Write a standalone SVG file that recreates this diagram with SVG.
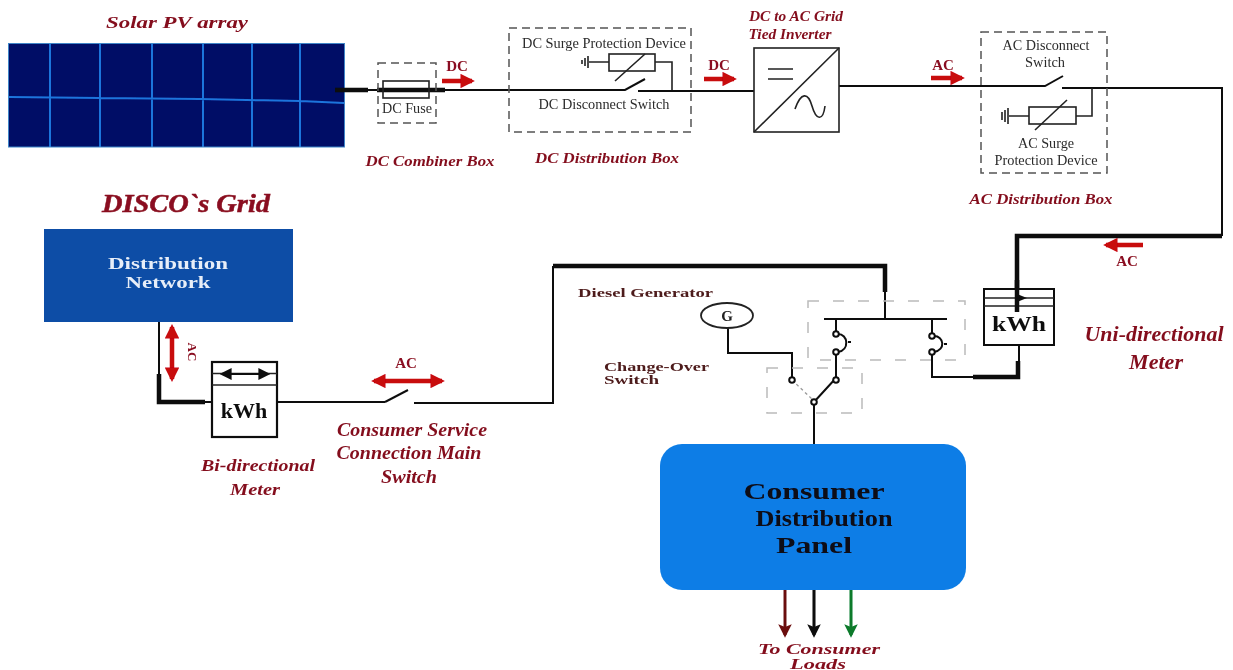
<svg xmlns="http://www.w3.org/2000/svg" width="1233" height="670" viewBox="0 0 1233 670">
<style>
text{font-family:"Liberation Serif","Times New Roman",serif;text-anchor:middle}
.cap{font-weight:bold;font-style:italic;fill:#840e1e;font-size:15px}
.lab{fill:#2c2c2c;font-size:14px}
.flow{font-weight:bold;fill:#8a1020;font-size:15px}
.mar{font-weight:bold;fill:#4d1a1a;font-size:13px;text-anchor:start}
.kwh{font-weight:bold;fill:#111;font-size:21px}
.wh{font-weight:bold;fill:#e8eef8;font-size:16px}
.pan{font-weight:bold;fill:#0a0a14;font-size:23px}
.w{fill:none;stroke:#111;stroke-width:2;stroke-linejoin:miter}
.t{fill:none;stroke:#0a0a0a;stroke-width:4.500;stroke-linejoin:miter}
.n{fill:none;stroke:#222;stroke-width:1.600}
.box{fill:none;stroke:#555;stroke-width:1.500;stroke-dasharray:8 5}
.gbox{fill:none;stroke:#bbb;stroke-width:1.500;stroke-dasharray:11 14}
.red{fill:none;stroke:#c8070f;stroke-width:4.500}
.term{fill:#fff;stroke:#111;stroke-width:2}
.pv{stroke:#1c74dc;stroke-width:2;fill:none}
</style>
<defs>
<filter id="soft" x="0" y="0" width="100%" height="100%"><feGaussianBlur stdDeviation="0.4"/></filter>
<marker id="rh" viewBox="0 0 10 10" refX="8" refY="5" markerWidth="3.4" markerHeight="3.2" orient="auto-start-reverse"><path d="M0 0L10 5L0 10Z" fill="#c8070f"/></marker>
<marker id="mh" viewBox="0 0 10 10" refX="8" refY="5" markerWidth="4.500" markerHeight="4.500" orient="auto"><path d="M0 0L10 5L0 10L2 5Z" fill="#6b1010"/></marker>
<marker id="kh" viewBox="0 0 10 10" refX="8" refY="5" markerWidth="4.500" markerHeight="4.500" orient="auto"><path d="M0 0L10 5L0 10L2 5Z" fill="#0a0a0a"/></marker>
<marker id="gh" viewBox="0 0 10 10" refX="8" refY="5" markerWidth="4.500" markerHeight="4.500" orient="auto"><path d="M0 0L10 5L0 10L2 5Z" fill="#0a7a2a"/></marker>
<marker id="bk" viewBox="0 0 10 10" refX="8" refY="5" markerWidth="6" markerHeight="6" orient="auto-start-reverse"><path d="M0 0L10 5L0 10Z" fill="#111"/></marker>
</defs>
<g filter="url(#soft)">
<g id="solar-pv-array">
<rect x="8" y="43" width="336" height="104" fill="#010c66"/>
<path class="pv" d="M50 44V147M100 44V147M152 44V147M203 44V147M252 44V147M300 44V147M9 97L100 98L200 99L300 101L344 103"/>
<rect x="8.500" y="43.500" width="336" height="103.500" fill="none" stroke="#3f86c8" stroke-width="1"/>
<text class="cap" x="177" y="28" textLength="142" lengthAdjust="spacingAndGlyphs" style="font-size:17px">Solar PV array</text>
</g>
<g id="connectors">
<path class="w" d="M368 90H625L645 79"/>
<path class="w" d="M638 91H754"/>
<path class="t" d="M335 90H368M377 90H445"/>
<path class="w" d="M839 86H1045L1063 76"/>
<path class="w" d="M1062 88H1222V236"/>
<path class="t" d="M1222 236H1017V312"/>
<path class="w" d="M728 328V353H792V378"/>
<path class="w" d="M836 378L814 402M814 402V444"/>
<path class="w" stroke-dasharray="3 3" d="M792 380L813 400" style="stroke:#999;stroke-width:1.300"/>
<path class="w" d="M836 378V352M836 333V319M824 319H947M885 319V266M932 319V335M932 352V377H973"/>
<path class="t" d="M973 377H1018V361"/>
<path class="w" d="M1019 361V345"/>
<path class="t" d="M885 292V266H553"/>
<path class="w" d="M553 266V403H414M385 402L408 390M385 402H277"/>
<path class="t" d="M205 402H159V374"/>
<path class="w" d="M159 374V322"/>
<path fill="none" stroke="#6b1010" stroke-width="3" marker-end="url(#mh)" d="M785 590V635"/>
<path fill="none" stroke="#0a0a0a" stroke-width="3" marker-end="url(#kh)" d="M814 590V635"/>
<path fill="none" stroke="#0a7a2a" stroke-width="3" marker-end="url(#gh)" d="M851 590V635"/>
<path class="w" d="M205 402H212"/>
</g>
<g id="flow-arrows">
<path class="red" marker-end="url(#rh)" d="M442 81H472"/><text class="flow" x="457" y="71">DC</text>
<path class="red" marker-end="url(#rh)" d="M704 79H734"/><text class="flow" x="719" y="70">DC</text>
<path class="red" marker-end="url(#rh)" d="M931 78H962"/><text class="flow" x="943" y="70">AC</text>
<path class="red" marker-end="url(#rh)" d="M1143 245H1106"/><text class="flow" x="1127" y="266">AC</text>
<path class="red" marker-start="url(#rh)" marker-end="url(#rh)" d="M374 381H442"/><text class="flow" x="406" y="368">AC</text>
<path class="red" marker-start="url(#rh)" marker-end="url(#rh)" d="M172 327V379"/><text class="flow" x="0" y="0" transform="translate(188 352) rotate(90)" style="font-size:13px">AC</text>
</g>
<g id="dc-combiner-box">
<rect class="box" x="378" y="63" width="58" height="60"/>
<rect class="n" x="383" y="81" width="46" height="17"/>
<text class="lab" x="407" y="113" textLength="50" lengthAdjust="spacingAndGlyphs">DC Fuse</text>
<text class="cap" x="430" y="166" textLength="129" lengthAdjust="spacingAndGlyphs">DC Combiner Box</text>
</g>
<g id="dc-distribution-box">
<rect class="box" x="509" y="28" width="182" height="104"/>
<text class="lab" x="604" y="48" textLength="164" lengthAdjust="spacingAndGlyphs">DC Surge Protection Device</text>
<rect class="n" x="609" y="54" width="46" height="17"/>
<path class="n" d="M589 62H609M655 62H672V90M615 81L645 54M588 56V68M585 58V66M582 60V64"/>
<text class="lab" x="604" y="109" textLength="131" lengthAdjust="spacingAndGlyphs">DC Disconnect Switch</text>
<text class="cap" x="607" y="163" textLength="144" lengthAdjust="spacingAndGlyphs">DC Distribution Box</text>
</g>
<g id="inverter">
<rect class="n" x="754" y="48" width="85" height="84" fill="#fff"/>
<path class="n" d="M754 132L839 48M768 69H793M768 79H793M795 109C801 92 808 92 812 106C816 120 823 122 825 106"/>
<text class="cap" x="796" y="21" textLength="94" lengthAdjust="spacingAndGlyphs" style="font-size:14px">DC to AC Grid</text>
<text class="cap" x="790" y="39" textLength="83" lengthAdjust="spacingAndGlyphs" style="font-size:14px">Tied Inverter</text>
</g>
<g id="ac-distribution-box">
<rect class="box" x="981" y="32" width="126" height="141"/>
<text class="lab" x="1046" y="50" textLength="87" lengthAdjust="spacingAndGlyphs">AC Disconnect</text>
<text class="lab" x="1045" y="67" textLength="40" lengthAdjust="spacingAndGlyphs">Switch</text>
<rect class="n" x="1029" y="107" width="47" height="17"/>
<path class="n" d="M1009 116H1029M1076 116H1092V88M1035 130L1067 100M1008 108V124M1005 110V122M1002 112V120"/>
<text class="lab" x="1046" y="148" textLength="56" lengthAdjust="spacingAndGlyphs">AC Surge</text>
<text class="lab" x="1046" y="165" textLength="103" lengthAdjust="spacingAndGlyphs">Protection Device</text>
<text class="cap" x="1041" y="204" textLength="143" lengthAdjust="spacingAndGlyphs">AC Distribution Box</text>
</g>
<g id="disco-grid">
<text x="186" y="212" textLength="168" lengthAdjust="spacingAndGlyphs" style="font-weight:bold;font-style:italic;font-size:26px;fill:#8a1020;stroke:#8a1020;stroke-width:.5">DISCO`s Grid</text>
<rect x="44" y="229" width="249" height="93" fill="#0b4ea6"/>
<text class="wh" x="168" y="269" textLength="120" lengthAdjust="spacingAndGlyphs">Distribution</text>
<text class="wh" x="168" y="288" textLength="85" lengthAdjust="spacingAndGlyphs">Network</text>
</g>
<g id="bi-directional-meter">
<rect x="212" y="362" width="65" height="75" fill="#fff" stroke="#111" stroke-width="2.200"/>
<path class="n" d="M212 373.500H277M212 385H277"/>
<path class="w" stroke-width="1.500" marker-start="url(#bk)" marker-end="url(#bk)" d="M222 374H268"/>
<text class="kwh" x="244" y="418" style="font-size:22px">kWh</text>
<text class="cap" x="258" y="471" textLength="114" lengthAdjust="spacingAndGlyphs" style="font-size:17px">Bi-directional</text>
<text class="cap" x="255" y="495" textLength="50" lengthAdjust="spacingAndGlyphs" style="font-size:17px">Meter</text>
</g>
<g id="consumer-service-switch">
<text class="cap" x="412" y="436" textLength="150" lengthAdjust="spacingAndGlyphs" style="font-size:18px">Consumer Service</text>
<text class="cap" x="409" y="459" textLength="145" lengthAdjust="spacingAndGlyphs" style="font-size:18px">Connection Main</text>
<text class="cap" x="409" y="483" textLength="56" lengthAdjust="spacingAndGlyphs" style="font-size:18px">Switch</text>
</g>
<g id="diesel-generator">
<ellipse cx="727" cy="315.500" rx="26" ry="12.500" fill="#fff" stroke="#222" stroke-width="1.800"/>
<text x="727" y="321" style="font-weight:bold;font-size:15px;fill:#222">G</text>
<text class="mar" x="578" y="297" textLength="135" lengthAdjust="spacingAndGlyphs">Diesel Generator</text>
</g>
<g id="change-over-switch">
<rect class="gbox" x="767" y="368" width="95" height="45"/>
<rect class="gbox" x="808" y="301" width="157" height="59"/>
<circle class="term" cx="792" cy="380" r="2.800"/>
<circle class="term" cx="836" cy="380" r="2.800"/>
<circle class="term" cx="814" cy="402" r="2.800"/>
<circle class="term" cx="836" cy="352" r="2.800"/>
<circle class="term" cx="836" cy="334" r="2.800"/>
<path class="w" d="M838 334C848 334 850 350 838 352M848 342H851"/>
<circle class="term" cx="932" cy="336" r="2.800"/>
<circle class="term" cx="932" cy="352" r="2.800"/>
<path class="w" d="M934 336C944 336 946 350 934 352M944 344H947"/>
<text class="mar" x="604" y="371" textLength="105" lengthAdjust="spacingAndGlyphs">Change-Over</text>
<text class="mar" x="604" y="384" textLength="55" lengthAdjust="spacingAndGlyphs">Switch</text>
</g>
<g id="uni-directional-meter">
<rect x="984" y="289" width="70" height="56" fill="#fff" stroke="#111" stroke-width="2"/>
<path class="n" d="M984 298H1054M984 306H1054"/>
<path class="t" d="M1017 280V312"/>
<path d="M1017 294L1027 298L1017 302Z" fill="#111"/>
<text class="kwh" x="1019" y="331" textLength="54" lengthAdjust="spacingAndGlyphs">kWh</text>
<text class="cap" x="1154" y="341" textLength="139" lengthAdjust="spacingAndGlyphs" style="font-size:22px">Uni-directional</text>
<text class="cap" x="1156" y="369" textLength="54" lengthAdjust="spacingAndGlyphs" style="font-size:22px">Meter</text>
</g>
<g id="consumer-distribution-panel">
<rect x="660" y="444" width="306" height="146" rx="22" fill="#0a7de6"/>
<text class="pan" x="814" y="499" textLength="141" lengthAdjust="spacingAndGlyphs">Consumer</text>
<text class="pan" x="824" y="526" textLength="137" lengthAdjust="spacingAndGlyphs">Distribution</text>
<text class="pan" x="814" y="553" textLength="76" lengthAdjust="spacingAndGlyphs">Panel</text>
</g>
<g id="consumer-loads">
<text class="cap" x="819" y="654" textLength="122" lengthAdjust="spacingAndGlyphs" style="font-size:14px">To Consumer</text>
<text class="cap" x="818" y="669" textLength="56" lengthAdjust="spacingAndGlyphs" style="font-size:14px">Loads</text>
</g>
</g>
</svg>
